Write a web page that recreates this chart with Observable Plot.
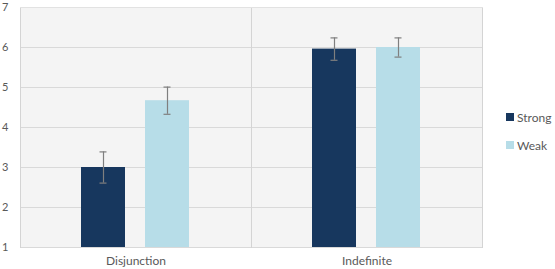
<!DOCTYPE html>
<html>
<head>
<meta charset="utf-8">
<script src="https://cdn.jsdelivr.net/npm/d3@7"></script>
<script src="https://cdn.jsdelivr.net/npm/@observablehq/plot@0.6"></script>
<style>
  html, body { margin: 0; padding: 0; background: #ffffff; }
  #chart { position: relative; width: 555px; height: 269px; font-family: Lato, "Open Sans", sans-serif; }
  #legend { position: absolute; left: 506px; top: 110px; font-size: 12px; color: #595959; }
  #legend .item { display: flex; align-items: center; height: 14px; margin-bottom: 14px; }
  #legend .sw { width: 8px; height: 8px; margin-right: 3px; }
</style>
</head>
<body>
<div id="chart"></div>
<script>
// Mean ratings with error margins, by sentence type and scalar condition
const categories = ["Disjunction", "Indefinite"];
const series = ["Strong", "Weak"];
const means = {
  Strong: [3.0, 5.96],
  Weak:   [4.67, 6.0]
};
const errors = {
  Strong: [0.39, 0.28],
  Weak:   [0.34, 0.24]
};
const yTicks = [1, 2, 3, 4, 5, 6, 7];
const colors = ["#17375e", "#b7dde8"];

const rows = [];
categories.forEach((c, i) => {
  series.forEach(s => {
    rows.push({category: c, series: s, mean: means[s][i], lo: means[s][i] - errors[s][i], hi: means[s][i] + errors[s][i]});
  });
});

const chart = Plot.plot({
  width: 555,
  height: 269,
  marginLeft: 20,
  marginRight: 73,
  marginTop: 7,
  marginBottom: 22,
  style: {fontFamily: "Lato, 'Open Sans', sans-serif", fontSize: "12px", color: "#595959", background: "transparent"},
  fx: {domain: categories, padding: 0, label: null, axis: "bottom", tickSize: 0, tickPadding: 9},
  x: {domain: series, paddingInner: 0.3077, paddingOuter: 0.9308, axis: null},
  y: {domain: [1, 7], axis: null},
  color: {domain: series, range: colors},
  marks: [
    Plot.frame({fill: "#f4f4f4", stroke: null}),
    Plot.ruleY(yTicks, {stroke: "#d9d9d9", strokeWidth: 1}),
    Plot.frame({anchor: "left", stroke: "#d4d4d4"}),
    Plot.frame({anchor: "right", stroke: "#d4d4d4"}),
    Plot.frame({anchor: "top", stroke: "#e2e2e2"}),
    Plot.axisY(yTicks, {tickSize: 0, tickPadding: 12, label: null, fontSize: 11, tickFormat: d => d, facetAnchor: "left"}),
    Plot.barY(rows, {fx: "category", x: "series", y1: 1, y2: "mean", fill: "series"}),
    Plot.ruleX(rows, {fx: "category", x: "series", y1: "lo", y2: "hi", stroke: "#7f7f7f", strokeWidth: 1.2}),
    Plot.tickY(rows, {fx: "category", x: "series", y: "lo", stroke: "#7f7f7f", strokeWidth: 1.2, insetLeft: 18.5, insetRight: 18.5}),
    Plot.tickY(rows, {fx: "category", x: "series", y: "hi", stroke: "#7f7f7f", strokeWidth: 1.2, insetLeft: 18.5, insetRight: 18.5})
  ]
});

const root = document.getElementById("chart");
root.appendChild(chart);

// Legend to the right of the plot area
const legend = document.createElement("div");
legend.id = "legend";
series.forEach((s, i) => {
  const item = document.createElement("div");
  item.className = "item";
  const sw = document.createElement("span");
  sw.className = "sw";
  sw.style.background = colors[i];
  const label = document.createElement("span");
  label.textContent = s;
  item.appendChild(sw);
  item.appendChild(label);
  legend.appendChild(item);
});
root.appendChild(legend);
</script>
</body>
</html>
